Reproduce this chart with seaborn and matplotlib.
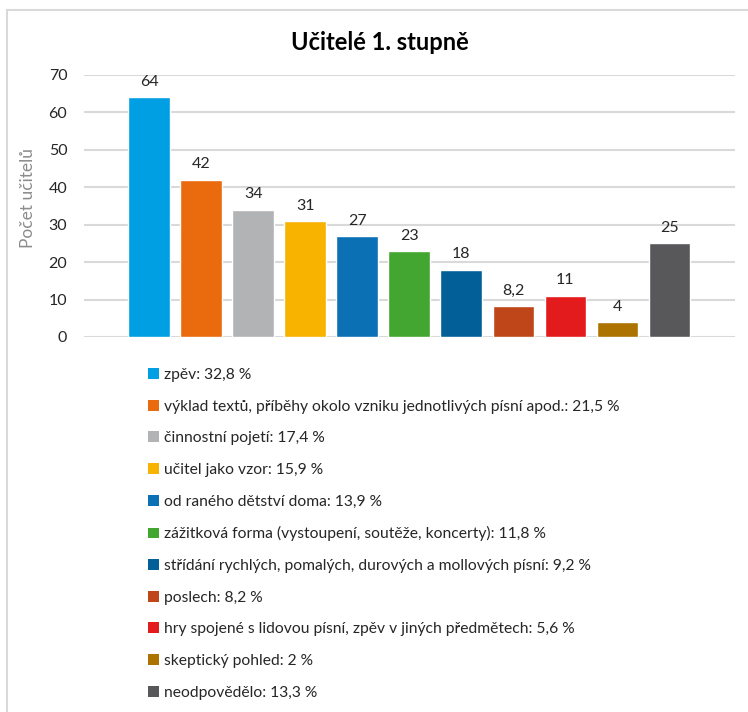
import matplotlib
matplotlib.use("Agg")
import matplotlib.pyplot as plt
from matplotlib.patches import Patch, Rectangle
import seaborn as sns
import pandas as pd

# data
categories = [
    "zpěv",
    "výklad textů, příběhy okolo vzniku jednotlivých písní apod.",
    "činnostní pojetí",
    "učitel jako vzor",
    "od raného dětství doma",
    "zážitková forma (vystoupení, soutěže, koncerty)",
    "střídání rychlých, pomalých, durových a mollových písní",
    "poslech",
    "hry spojené s lidovou písní, zpěv v jiných předmětech",
    "skeptický pohled",
    "neodpovědělo",
]
counts = [64, 42, 34, 31, 27, 23, 18, 8.2, 11, 4, 25]
percents = ["32,8", "21,5", "17,4", "15,9", "13,9", "11,8", "9,2", "8,2", "5,6", "2", "13,3"]
colors = ["#009FE3", "#EA6A0E", "#B2B3B5", "#F8B200", "#0C71B4", "#43A631",
          "#035F98", "#BE4619", "#E41B1C", "#AD7300", "#58585A"]

df = pd.DataFrame({"kategorie": categories, "pocet": counts})

sns.set_style("white")
plt.rcParams["font.family"] = ["Lato", "DejaVu Sans"]

fig = plt.figure(figsize=(7.48, 7.12), dpi=100)
ax = fig.add_axes([84 / 748, 1 - 337 / 712, 651 / 748, 262 / 712])

sns.barplot(
    data=df,
    x="kategorie",
    y="pocet",
    hue="kategorie",
    palette=colors,
    order=categories,
    hue_order=categories,
    legend=False,
    width=0.8,
    saturation=1,
    ax=ax
)

ax.set_xlim(-1.249, 11.258)
ax.set_ylim(0, 70)
ax.set_yticks(range(0, 71, 10))
ax.set_xticks([])
ax.set_xlabel("")
ax.set_ylabel("Počet učitelů", color="#8C8C8C", fontsize=12.5)
ax.yaxis.set_label_coords(-0.0737, 0.53)
ax.tick_params(axis="y", length=0, pad=12, labelsize=11.5, labelcolor="#262626")
ax.grid(axis="y", color="#D9D9D9", linewidth=1.5)
ax.set_axisbelow(True)
for s in ax.spines.values():
    s.set_visible(False)

for cont in ax.containers:
    vals = [str(v).replace(".", ",") if v % 1 else str(int(v)) for v in cont.datavalues]
    ax.bar_label(cont, labels=vals, padding=6, fontsize=11.5, color="#262626")

fig.text(380 / 748, 1 - 42 / 712, "Učitelé 1. stupně", ha="center", va="center",
         fontsize=17, fontweight="bold", color="black")

# legend below the chart
handles = [Patch(facecolor=c, edgecolor="none") for c in colors]
labels = [f"{c}: {p} %" for c, p in zip(categories, percents)]
fig.legend(
    handles, labels,
    loc="upper left",
    bbox_to_anchor=(148 / 748, 1 - 368 / 712),
    frameon=False,
    fontsize=11.25,
    handlelength=0.68,
    handleheight=0.68,
    handletextpad=0.35,
    labelspacing=1.13,
    borderpad=0,
    borderaxespad=0,
)

# chart frame
fig.patches.append(Rectangle((7 / 748, -0.1), 1.2, 1.1 - 10 / 712,
                             transform=fig.transFigure, fill=False,
                             edgecolor="#D9D9D9", linewidth=1.5))

fig.savefig("out.png", dpi=100)
